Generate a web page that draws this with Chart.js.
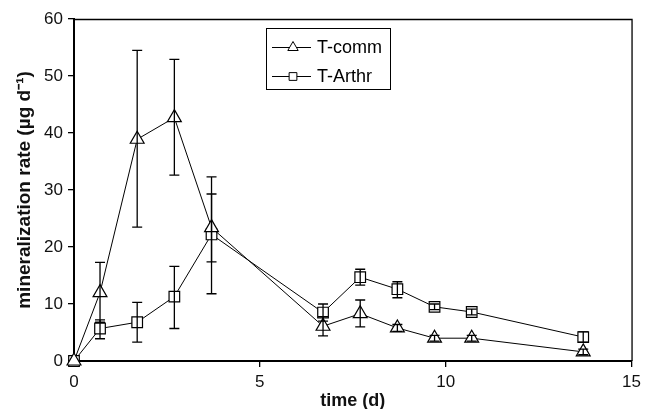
<!DOCTYPE html>
<html>
<head>
<meta charset="utf-8">
<script src="https://cdn.jsdelivr.net/npm/chart.js@4.4.1/dist/chart.umd.min.js"></script>
<style>
  html, body { margin: 0; padding: 0; background: #fff; }
  #wrap { width: 646px; height: 409px; }
</style>
</head>
<body>
<div id="wrap"><canvas id="chart1" width="646" height="409"></canvas></div>
<script>
// data
const days = [0, 0.7, 1.7, 2.7, 3.7, 6.7, 7.7, 8.7, 9.7, 10.7, 13.7];

const commRate = [0, 12.0, 38.9, 42.7, 23.4, 6.1, 8.3, 5.8, 4.0, 4.0, 1.6];
const commLow  = [0, 6.8, 23.5, 32.6, 11.8, 4.4, 6.0, 5.2, 3.5, 3.5, 1.1];
const commHigh = [0, 17.3, 54.5, 52.9, 32.3, 7.8, 10.7, 6.4, 4.5, 4.5, 2.1];

const arthrRate = [0, 5.7, 6.8, 11.3, 22.2, 8.5, 14.7, 12.6, 9.5, 8.6, 4.2];
const arthrLow  = [0, 3.9, 3.3, 5.7, 17.4, 7.0, 13.3, 11.1, 9.0, 8.1, 3.3];
const arthrHigh = [0, 7.2, 10.3, 16.6, 29.3, 10.0, 16.1, 13.9, 10.0, 9.1, 5.1];

const xTicks = [0, 5, 10, 15];
const yTicks = [0, 10, 20, 30, 40, 50, 60];

const FONT = "'Liberation Sans', Arial, sans-serif";

function toPoints(xs, ys) {
    return xs.map((x, i) => ({ x: x, y: ys[i] }));
}

// error bars, drawn through the chart scales
const errorBars = {
    id: 'errorBars',
    afterDatasetsDraw(chart) {
        const ctx = chart.ctx;
        const xs = chart.scales.x;
        const ys = chart.scales.y;
        const sets = [[commLow, commHigh], [arthrLow, arthrHigh]];
        ctx.save();
        ctx.strokeStyle = '#000';
        ctx.lineWidth = 1.3;
        sets.forEach(([lo, hi]) => {
            days.forEach((d, i) => {
                if (hi[i] - lo[i] <= 0) return;
                const px = xs.getPixelForValue(d);
                const y1 = ys.getPixelForValue(lo[i]);
                const y2 = ys.getPixelForValue(hi[i]);
                ctx.beginPath();
                ctx.moveTo(px, y1); ctx.lineTo(px, y2);
                ctx.moveTo(px - 5, y1); ctx.lineTo(px + 5, y1);
                ctx.moveTo(px - 5, y2); ctx.lineTo(px + 5, y2);
                ctx.stroke();
            });
        });
        ctx.restore();
    }
};

// box round the plot and the legend inside it
const frameAndLegend = {
    id: 'frameAndLegend',
    afterDraw(chart) {
        const ctx = chart.ctx;
        const a = chart.chartArea;
        ctx.save();
        ctx.strokeStyle = '#000';
        ctx.lineWidth = 1.3;
        ctx.beginPath();
        ctx.moveTo(a.left, a.top + 0.5);
        ctx.lineTo(a.right + 0.5, a.top + 0.5);
        ctx.lineTo(a.right + 0.5, a.bottom);
        ctx.stroke();

        // legend
        const bx = 266, by = 28, bw = 124, bh = 61;
        ctx.fillStyle = '#fff';
        ctx.fillRect(bx, by, bw, bh);
        ctx.lineWidth = 1;
        ctx.strokeRect(bx + 0.5, by + 0.5, bw, bh);
        const rows = [47, 76];
        chart.data.datasets.forEach((ds, i) => {
            const ry = rows[i];
            ctx.lineWidth = 1;
            ctx.strokeStyle = '#000';
            ctx.beginPath();
            ctx.moveTo(272, ry + 0.5);
            ctx.lineTo(311, ry + 0.5);
            ctx.stroke();
            ctx.fillStyle = '#fff';
            Chart.helpers.drawPoint(ctx, {
                pointStyle: ds.pointStyle,
                radius: ds.pointStyle === 'rect' ? 5.5 : 6,
                borderWidth: 1
            }, 293, ry + 0.5);
            ctx.fillStyle = '#000';
            ctx.font = '18px ' + FONT;
            ctx.textBaseline = 'middle';
            ctx.textAlign = 'left';
            ctx.fillText(ds.label, 317, ry + 1);
        });
        ctx.restore();
    }
};

const data = {
    datasets: [
        {
            label: 'T-comm',
            data: toPoints(days, commRate),
            showLine: true,
            borderColor: '#000',
            borderWidth: 1,
            backgroundColor: '#fff',
            pointStyle: 'triangle',
            pointRadius: 8,
            pointBorderWidth: 1.2,
            pointBackgroundColor: '#fff',
            pointBorderColor: '#000',
            tension: 0
        },
        {
            label: 'T-Arthr',
            data: toPoints(days, arthrRate),
            showLine: true,
            borderColor: '#000',
            borderWidth: 1,
            backgroundColor: '#fff',
            pointStyle: 'rect',
            pointRadius: 7.5,
            pointBorderWidth: 1.2,
            pointBackgroundColor: '#fff',
            pointBorderColor: '#000',
            tension: 0
        }
    ]
};

const config = {
    type: 'scatter',
    data: data,
    options: {
        responsive: false,
        animation: false,
        events: [],
        clip: false,
        layout: { padding: { top: 19, right: 12, left: 0, bottom: 0 } },
        plugins: {
            legend: { display: false },
            tooltip: { enabled: false }
        },
        scales: {
            x: {
                type: 'linear',
                min: 0, max: 15,
                afterBuildTicks: (s) => { s.ticks = xTicks.map(v => ({ value: v })); },
                afterFit: (s) => { s.height = 48; },
                grid: { drawOnChartArea: false, drawTicks: true, tickLength: 6, color: '#000', lineWidth: 1.3 },
                border: { display: true, color: '#000', width: 2 },
                ticks: { color: '#111', font: { family: FONT, size: 17 }, padding: 5, maxRotation: 0 },
                title: { display: true, text: 'time (d)', color: '#111', font: { family: FONT, size: 18, weight: 'bold' }, padding: { top: 0, bottom: -3 } }
            },
            y: {
                min: 0, max: 60,
                afterBuildTicks: (s) => { s.ticks = yTicks.map(v => ({ value: v })); },
                afterFit: (s) => { s.width = 74; },
                grid: { drawOnChartArea: false, drawTicks: true, tickLength: 6, color: '#000', lineWidth: 1.3 },
                border: { display: true, color: '#000', width: 2 },
                ticks: { color: '#111', font: { family: FONT, size: 17 }, padding: 5 },
                title: { display: true, text: 'mineralization rate (µg d⁻¹)', color: '#111', font: { family: FONT, size: 19, weight: 'bold' }, padding: { top: 13, bottom: 0 } }
            }
        }
    },
    plugins: [errorBars, frameAndLegend]
};

const chart1 = new Chart(document.getElementById('chart1'), config);
</script>
</body>
</html>
